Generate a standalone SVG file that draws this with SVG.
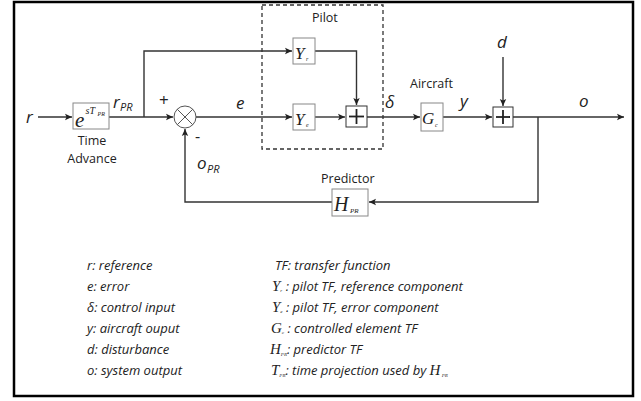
<svg xmlns="http://www.w3.org/2000/svg" width="641" height="401" viewBox="0 0 641 401">
<defs>
<marker id="ah" markerWidth="8" markerHeight="8" refX="7" refY="4" orient="auto" markerUnits="userSpaceOnUse">
<path d="M0,0.8 L7,4 L0,7.2 L1.5,4 Z" fill="#222"/>
</marker>
<style>
.ln{fill:none;stroke:#333;stroke-width:1.4}
.bx{fill:#fff;stroke:#888;stroke-width:1}
.sb{fill:#fff;stroke:#333;stroke-width:1}
.var{font-family:"Open Sans","Liberation Sans",sans-serif;font-style:italic;font-size:17px;fill:#222}
.sub{font-family:"Open Sans","Liberation Sans",sans-serif;font-style:italic;font-size:11px;fill:#222}
.lab{font-family:"Open Sans","Liberation Sans",sans-serif;font-size:12.5px;fill:#222}
.tf{font-family:"Liberation Serif",serif;font-style:italic;fill:#222}
.lg{font-family:"Open Sans","Liberation Sans",sans-serif;font-style:italic;font-size:13px;fill:#222}
.sym{font-family:"Liberation Serif",serif;font-style:italic;font-size:15px}
.ss{font-family:"Liberation Serif",serif;font-style:italic;font-size:5px}
</style>
</defs>
<rect x="14" y="2" width="619" height="394" fill="#fff" stroke="#000" stroke-width="2.5"/>

<g id="connectors">
<line class="ln" x1="38" y1="117" x2="72" y2="117" marker-end="url(#ah)"/>
<line class="ln" x1="109" y1="117" x2="173" y2="117" marker-end="url(#ah)"/>
<polyline class="ln" points="144,117 144,51 292,51" marker-end="url(#ah)"/>
<line class="ln" x1="196" y1="117" x2="292" y2="117" marker-end="url(#ah)"/>
<polyline class="ln" points="315,51 356.5,51 356.5,105" marker-end="url(#ah)"/>
<line class="ln" x1="315" y1="117" x2="345" y2="117" marker-end="url(#ah)"/>
<line class="ln" x1="367" y1="117" x2="420" y2="117" marker-end="url(#ah)"/>
<line class="ln" x1="443" y1="117" x2="492" y2="117" marker-end="url(#ah)"/>
<line class="ln" x1="503" y1="57" x2="503" y2="106" marker-end="url(#ah)"/>
<line class="ln" x1="513" y1="117" x2="624" y2="117" marker-end="url(#ah)"/>
<polyline class="ln" points="538,117 538,202 369,202" marker-end="url(#ah)"/>
<polyline class="ln" points="332,202 185,202 185,129" marker-end="url(#ah)"/>
</g>

<g id="pilot">
<rect x="262" y="5" width="121" height="144" fill="none" stroke="#333" stroke-width="1.3" stroke-dasharray="4,3"/>
<text class="lab" x="312" y="22">Pilot</text>
</g>

<g id="time-advance">
<rect class="bx" x="73" y="103" width="36" height="26"/>
<text class="tf" x="75" y="127" font-size="21">e</text>
<text class="tf" x="85.5" y="114" font-size="10">sT</text>
<text class="tf" x="97.5" y="116" font-size="6">PR</text>
<text class="lab" x="92" y="145" text-anchor="middle">Time</text>
<text class="lab" x="92" y="163" text-anchor="middle">Advance</text>
</g>

<g id="sum1">
<circle cx="185" cy="117" r="11" fill="#fff" stroke="#555" stroke-width="1"/>
<line x1="177.2" y1="109.2" x2="192.8" y2="124.8" stroke="#555" stroke-width="1"/>
<line x1="192.8" y1="109.2" x2="177.2" y2="124.8" stroke="#555" stroke-width="1"/>
<text x="159" y="106" style="font-family:'Open Sans','Liberation Sans',sans-serif;font-size:17px;fill:#222">+</text>
<text x="195" y="142" style="font-family:'Open Sans','Liberation Sans',sans-serif;font-size:16px;fill:#222">-</text>
</g>

<g id="Yr">
<rect class="bx" x="293" y="38" width="22" height="26"/>
<text class="tf" x="295" y="59" font-size="17">Y</text>
<text class="tf" x="306" y="61" font-size="6">r</text>
</g>

<g id="Ye">
<rect class="bx" x="293" y="104" width="22" height="26"/>
<text class="tf" x="295" y="125" font-size="17">Y</text>
<text class="tf" x="306" y="127" font-size="6">e</text>
</g>

<g id="sum-pilot">
<rect class="sb" x="346" y="106" width="21" height="21"/>
<line x1="349" y1="116.5" x2="364" y2="116.5" stroke="#222" stroke-width="1.8"/>
<line x1="356.5" y1="109" x2="356.5" y2="124" stroke="#222" stroke-width="1.8"/>
</g>

<g id="aircraft">
<rect class="bx" x="421" y="103" width="22" height="28"/>
<text class="tf" x="422" y="124" font-size="17">G</text>
<text class="tf" x="435" y="127" font-size="6">c</text>
<text class="lab" x="410" y="88">Aircraft</text>
</g>

<g id="sum-dist">
<rect class="sb" x="493" y="107" width="20" height="20"/>
<line x1="496" y1="117" x2="510" y2="117" stroke="#222" stroke-width="1.8"/>
<line x1="503" y1="110" x2="503" y2="124" stroke="#222" stroke-width="1.8"/>
</g>

<g id="predictor">
<rect class="bx" x="332" y="189" width="36" height="27"/>
<text class="tf" x="334" y="211" font-size="20">H</text>
<text class="tf" x="350" y="213" font-size="7">PR</text>
<text class="lab" x="321" y="183">Predictor</text>
</g>

<g id="labels">
<text class="var" x="26" y="123">r</text>
<text class="var" x="113" y="108">r</text>
<text class="sub" x="120" y="111">PR</text>
<text class="var" x="236" y="109">e</text>
<text class="var" x="197" y="169">o</text>
<text class="sub" x="207" y="173">PR</text>
<text class="var" x="385" y="108">δ</text>
<text class="var" x="460" y="107">y</text>
<text class="var" x="497" y="48">d</text>
<text class="var" x="579" y="107">o</text>
</g>

<g id="legend">
<text class="lg" x="87" y="270">r: reference</text>
<text class="lg" x="87" y="291">e: error</text>
<text class="lg" x="87" y="312">δ: control input</text>
<text class="lg" x="87" y="333">y: aircraft ouput</text>
<text class="lg" x="87" y="354">d: disturbance</text>
<text class="lg" x="87" y="375">o: system output</text>

<text class="lg" x="275" y="270">TF: transfer function</text>
<text class="lg" x="272" y="291"><tspan class="sym">Y</tspan><tspan class="ss" dy="1">r</tspan><tspan dy="-1"> : pilot TF, reference component</tspan></text>
<text class="lg" x="272" y="312"><tspan class="sym">Y</tspan><tspan class="ss" dy="1">e</tspan><tspan dy="-1"> : pilot TF, error component</tspan></text>
<text class="lg" x="271" y="333"><tspan class="sym">G</tspan><tspan class="ss" dy="1">c</tspan><tspan dy="-1"> : controlled element TF</tspan></text>
<text class="lg" x="270" y="354"><tspan class="sym">H</tspan><tspan class="ss" dy="2">PR</tspan><tspan dy="-2">: predictor TF</tspan></text>
<text class="lg" x="271" y="375"><tspan class="sym">T</tspan><tspan class="ss" dy="2">PR</tspan><tspan dy="-2">: time projection used by </tspan><tspan class="sym">H</tspan><tspan class="ss" dy="2"> PR</tspan></text>
</g>
</svg>
